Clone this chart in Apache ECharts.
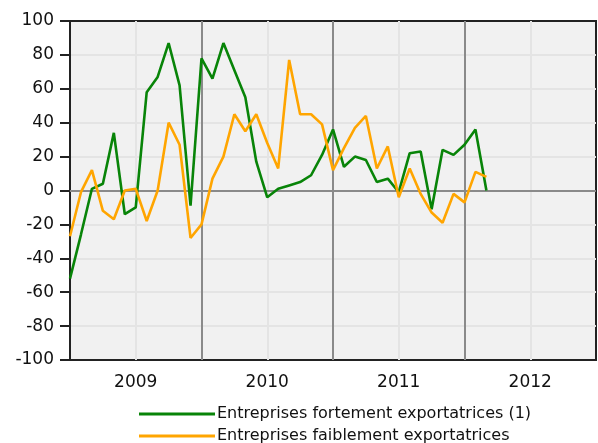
<!DOCTYPE html>
<html>
<head>
<meta charset="utf-8">
<script src="https://cdn.jsdelivr.net/npm/echarts@6/dist/echarts.min.js"></script>
<style>html,body{margin:0;padding:0;background:#fff}#c{width:598px;height:443px}</style>
</head>
<body>
<div id="c"></div>
<script>
var months = [
 '2009-01','2009-02','2009-03','2009-04','2009-05','2009-06','2009-07','2009-08','2009-09','2009-10','2009-11','2009-12',
 '2010-01','2010-02','2010-03','2010-04','2010-05','2010-06','2010-07','2010-08','2010-09','2010-10','2010-11','2010-12',
 '2011-01','2011-02','2011-03','2011-04','2011-05','2011-06','2011-07','2011-08','2011-09','2011-10','2011-11','2011-12',
 '2012-01','2012-02','2012-03','2012-04','2012-05','2012-06','2012-07','2012-08','2012-09','2012-10','2012-11','2012-12',
 '2013-01'
];
var yearDividers = ['2010-01','2011-01','2012-01'];
var seriesNames = ['Entreprises fortement exportatrices (1)', 'Entreprises faiblement exportatrices'];
var fortement = [-52,-26,1,4,34,-14,-10,58,67,87,62,-9,
                 78,66,87,71,55,17,-4,1,3,5,9,21,
                 36,14,20,18,5,7,-1,22,23,-11,24,21,
                 27,36,0];
var faiblement = [-27,-1,12,-12,-17,0,1,-18,0,40,27,-28,
                  -20,7,20,45,35,45,28,13,77,45,45,39,
                  12,25,37,44,13,26,-4,13,-2,-13,-19,-2,
                  -7,11,8];
var yTicks = {min:-100, max:100, interval:20};

var chart = echarts.init(document.getElementById('c'), null, {renderer:'canvas'});
var font = 'DejaVu Sans';
function legendFor(name, top){
  return {
    orient:'horizontal', left:134, top:top, itemWidth:76, itemHeight:3,
    icon:'rect',
    textStyle:{fontFamily:font, fontSize:16, color:'#111', padding:[0,0,0,-3]},
    data:[name]
  };
}
chart.setOption({
  animation:false,
  grid:{left:70, right:2, top:21, bottom:83, show:true, backgroundColor:'#f1f1f1', borderColor:'#222', borderWidth:2},
  xAxis:{
    type:'category', data:months, boundaryGap:false,
    axisLine:{show:true, lineStyle:{color:'#222', width:2}},
    axisTick:{show:false},
    axisLabel:{
      interval:function(i){return i%12===6;},
      formatter:function(v){return v.slice(0,4);},
      fontFamily:font, fontSize:17, color:'#111', margin:14
    },
    splitLine:{show:true, interval:function(i){return i%12===6;}, lineStyle:{color:'#e4e4e4', width:2}}
  },
  yAxis:{
    type:'value', min:yTicks.min, max:yTicks.max, interval:yTicks.interval,
    axisLine:{show:true, lineStyle:{color:'#222', width:2}},
    axisTick:{show:true, length:10, lineStyle:{color:'#222', width:2}},
    axisLabel:{fontFamily:font, fontSize:17, color:'#111', margin:16},
    splitLine:{show:true, showMinLine:false, showMaxLine:false, lineStyle:{color:'#e4e4e4', width:2}}
  },
  legend:[legendFor(seriesNames[0], 401), legendFor(seriesNames[1], 423)],
  series:[
    {name:seriesNames[0], type:'line', data:fortement, symbol:'none', z:3,
     lineStyle:{color:'#088408', width:2.6}, itemStyle:{color:'#088408'},
     markLine:{silent:true, symbol:'none', z:1, label:{show:false}, animation:false,
       lineStyle:{color:'#8a8a8a', width:2, type:'solid'},
       data:[{yAxis:0}].concat(yearDividers.map(function(m){return {xAxis:m};}))}
    },
    {name:seriesNames[1], type:'line', data:faiblement, symbol:'none', z:3,
     lineStyle:{color:'#ffa500', width:2.6}, itemStyle:{color:'#ffa500'}}
  ]
});
</script>
</body>
</html>
